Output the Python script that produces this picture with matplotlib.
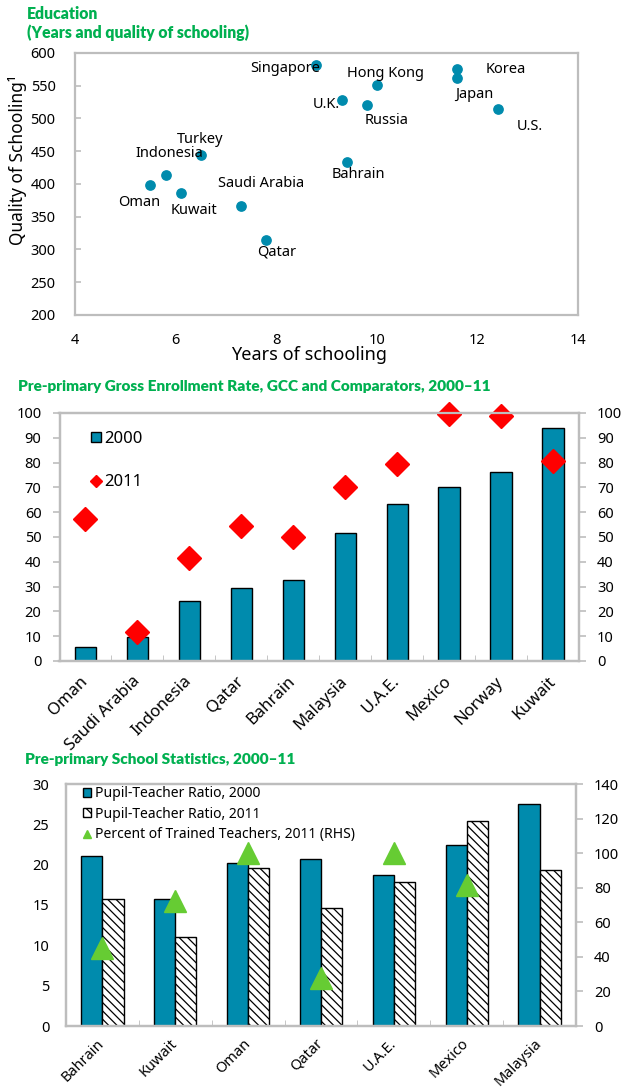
import numpy as np
import matplotlib
matplotlib.use("Agg")
import matplotlib.pyplot as plt
from matplotlib.patches import Patch
from matplotlib.lines import Line2D

plt.rcParams['font.family'] = ['Noto Sans', 'DejaVu Sans']
plt.rcParams['hatch.linewidth'] = 0.9

# ---- data: years vs quality of schooling
countries = ['Singapore', 'Hong Kong', 'Korea', 'Japan', 'U.K.', 'Russia', 'U.S.',
             'Turkey', 'Indonesia', 'Bahrain', 'Oman', 'Kuwait', 'Saudi Arabia', 'Qatar']
years = [8.8, 10.0, 11.6, 11.6, 9.3, 9.8, 12.4, 6.5, 5.8, 9.4, 5.5, 6.1, 7.3, 7.8]
quality = [581, 551, 575, 562, 528, 521, 514, 444, 413, 433, 398, 386, 367, 314]

# ---- data: pre-primary gross enrollment
enroll_cats = ['Oman', 'Saudi Arabia', 'Indonesia', 'Qatar', 'Bahrain', 'Malaysia',
               'U.A.E.', 'Mexico', 'Norway', 'Kuwait']
enroll_2000 = [5.8, 9.8, 24.3, 29.3, 32.8, 51.7, 63.5, 70.1, 76.2, 94.1]
enroll_2011 = [57.2, 11.5, 41.6, 54.5, 50.2, 70.3, 79.5, 99.5, 98.9, 80.8]

# ---- data: pre-primary school statistics
school_cats = ['Bahrain', 'Kuwait', 'Oman', 'Qatar', 'U.A.E.', 'Mexico', 'Malaysia']
ptr_2000 = [21.05, 15.7, 20.2, 20.75, 18.7, 22.45, 27.5]
ptr_2011 = [15.7, 11.05, 19.55, 14.65, 17.8, 25.45, 19.35]
trained_2011 = [45.2, 72.1, 100.0, 27.7, 99.9, 81.4, np.nan]

# label offsets (data units) for the scatter names
label_offsets = {
    'Singapore': (-0.63, -5), 'Hong Kong': (0.18, 18), 'Korea': (0.97, 0),
    'Japan': (0.34, -26), 'U.K.': (-0.3, -6.5), 'Russia': (0.4, -24),
    'U.S.': (0.65, -26), 'Turkey': (-0.02, 23.5), 'Indonesia': (0.07, 33),
    'Bahrain': (0.24, -18.5), 'Oman': (-0.22, -26), 'Kuwait': (0.27, -26),
    'Saudi Arabia': (0.39, 34), 'Qatar': (0.21, -18),
}

TEAL = '#008BAD'
GREEN_TITLE = '#00B050'
TRI_GREEN = '#66CC33'
GRID_GRAY = '#BDBDBD'
TITLE_FONT = ['Lato', 'DejaVu Sans']


def style_box(ax):
    for sp in ax.spines.values():
        sp.set_color(GRID_GRAY)
        sp.set_linewidth(1.6)
    ax.tick_params(colors=GRID_GRAY, labelcolor='black', labelsize=10.5, width=1.2)


fig = plt.figure(figsize=(6.22, 10.89), dpi=100)
W, H = 622.0, 1089.0


def px_axes(left, top, right, bottom):
    return fig.add_axes([left / W, 1 - bottom / H, (right - left) / W, (bottom - top) / H])


# ================= panel 1 =================
fig.text(27 / W, 1 - 14 / H, 'Education', color=GREEN_TITLE, fontsize=11.3,
         fontweight='heavy', family=TITLE_FONT, va='center')
fig.text(27 / W, 1 - 33 / H, '(Years and quality of schooling)', color=GREEN_TITLE,
         fontsize=11.3, fontweight='heavy', family=TITLE_FONT, va='center')

ax1 = px_axes(75, 53, 578, 315)
style_box(ax1)
ax1.scatter(years, quality, s=45, color=TEAL, zorder=3)
for name, x, y in zip(countries, years, quality):
    dx, dy = label_offsets[name]
    ax1.text(x + dx, y + dy, name, ha='center', va='center', fontsize=10.5)
ax1.set_xlim(4, 14)
ax1.set_ylim(200, 600)
ax1.set_xticks([4, 6, 8, 10, 12, 14])
ax1.set_yticks(np.arange(200, 601, 50))
ax1.tick_params(axis='x', length=0, pad=13)
ax1.tick_params(axis='y', length=4, direction='in', pad=14)
ax1.set_xlabel('Years of schooling', fontsize=13)
ax1.xaxis.set_label_coords(0.465, -0.118)
ax1.set_ylabel('Quality of Schooling¹', fontsize=12.5)
ax1.yaxis.set_label_coords(-0.095, 0.59)

# ================= panel 2 =================
fig.text(18 / W, 1 - 387 / H, 'Pre-primary Gross Enrollment Rate, GCC and Comparators, 2000\u201311',
         color=GREEN_TITLE, fontsize=11.1, fontweight='heavy', family=TITLE_FONT, va='center')

ax2 = px_axes(59.5, 413, 579, 661)
style_box(ax2)
x2 = np.arange(len(enroll_cats))
ax2.bar(x2, enroll_2000, width=0.41, color=TEAL, edgecolor='black', linewidth=1, zorder=2)
ax2.plot(x2, enroll_2011, linestyle='none', marker='D', markersize=12,
         color='#FF0000', zorder=3, clip_on=False)
ax2.set_xlim(-0.5, len(enroll_cats) - 0.5)
ax2.set_ylim(0, 100)
ax2.set_yticks(np.arange(0, 101, 10))
ax2.set_xticks(x2)
ax2.set_xticklabels(enroll_cats, rotation=45, ha='right', va='center',
                    rotation_mode='anchor', fontsize=12)
ax2.tick_params(axis='x', length=0, pad=13)
ax2.set_xticks(x2[:-1] + 0.5, minor=True)
ax2.tick_params(axis='x', which='minor', direction='in', length=4, color=GRID_GRAY)
ax2.tick_params(axis='y', length=5, pad=8)
ax2r = ax2.twinx()
style_box(ax2r)
ax2r.set_ylim(0, 100)
ax2r.set_yticks(np.arange(0, 101, 10))
ax2r.tick_params(axis='y', length=5, pad=8)

leg2 = ax2.legend(handles=[
    Patch(facecolor=TEAL, edgecolor='black', linewidth=1, label='2000'),
    Line2D([], [], linestyle='none', marker='D', markersize=6, color='#FF0000', label='2011')],
    loc='upper left', bbox_to_anchor=(0.045, 0.962), frameon=False, fontsize=12,
    handlelength=0.6, handleheight=0.6, handletextpad=0.2, labelspacing=1.65, borderpad=0)

# ================= panel 3 =================
fig.text(25 / W, 1 - 760 / H, 'Pre-primary School Statistics, 2000\u201311',
         color=GREEN_TITLE, fontsize=11.1, fontweight='heavy', family=TITLE_FONT, va='center')

ax3 = px_axes(66, 784, 576, 1026)
style_box(ax3)
x3 = np.arange(len(school_cats))
bw = 0.29
ax3.bar(x3 - bw / 2, ptr_2000, width=bw, color=TEAL, edgecolor='black', linewidth=1, zorder=2)
ax3.bar(x3 + bw / 2, ptr_2011, width=bw, color='white', edgecolor='black', linewidth=1,
        hatch='\\\\\\\\', zorder=2)
ax3.set_xlim(-0.5, len(school_cats) - 0.5)
ax3.set_ylim(0, 30)
ax3.set_yticks(np.arange(0, 31, 5))
ax3.set_xticks(x3)
ax3.set_xticklabels(school_cats, rotation=45, ha='right', va='center',
                    rotation_mode='anchor', fontsize=10.5)
ax3.tick_params(axis='x', length=0, pad=11)
ax3.set_xticks(x3[:-1] + 0.5, minor=True)
ax3.tick_params(axis='x', which='minor', direction='in', length=4, color=GRID_GRAY)
ax3.tick_params(axis='y', length=0, pad=12)

ax3r = ax3.twinx()
style_box(ax3r)
ax3r.plot(x3, trained_2011, linestyle='none', marker='^', markersize=16,
          color=TRI_GREEN, zorder=4)
ax3r.set_ylim(0, 140)
ax3r.set_yticks(np.arange(0, 141, 20))
ax3r.tick_params(axis='y', length=5, pad=8)

ax3.set_zorder(ax3r.get_zorder() - 1)
ax3r.patch.set_visible(False)

leg3 = ax3r.legend(handles=[
    Patch(facecolor=TEAL, edgecolor='black', linewidth=1, label='Pupil-Teacher Ratio, 2000'),
    Patch(facecolor='white', edgecolor='black', linewidth=1, hatch='\\\\\\',
          label='Pupil-Teacher Ratio, 2011'),
    Line2D([], [], linestyle='none', marker='^', markersize=6, color=TRI_GREEN,
           label='Percent of Trained Teachers, 2011 (RHS)')],
    loc='upper left', bbox_to_anchor=(0.02, 1.02), frameon=False, fontsize=10,
    handlelength=0.6, handleheight=0.6, handletextpad=0.25, labelspacing=0.4, borderpad=0)

fig.savefig('out.png', dpi=100)
